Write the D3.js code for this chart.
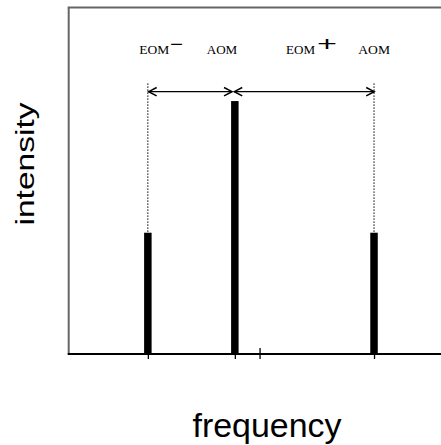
<!DOCTYPE html>
<html><head><meta charset="utf-8">
<script src="https://cdn.jsdelivr.net/npm/d3@7"></script>
<style>html,body{margin:0;padding:0;background:#fff;}svg{display:block;}</style>
</head><body>
<svg id="chart" width="441" height="445"></svg>
<script>
// ---- data ----
const lineNames = ["EOM-", "AOM", "EOM+"];
const frequencies = [-1.0, 0.0, 1.6];
const intensities = [0.35, 0.73, 0.35];
const markerTicks = [0.29];
const xDomain = [-1.91, 2.37];
const yDomain = [0, 1];
const arrowLevel = 0.757;
const guideTop = 0.781;
const xTitle = "frequency";
const yTitle = "intensity";

// ---- layout ----
const L = 68.7, R = 441, T = 7.5, B = 354;
const svg = d3.select("#chart");
const x = d3.scaleLinear().domain(xDomain).range([L, R]);
const y = d3.scaleLinear().domain(yDomain).range([B, T]);

// frame lines (left + top grey, bottom black)
svg.append("line").attr("x1", L).attr("x2", L).attr("y1", T).attr("y2", B)
  .attr("stroke", "#666").attr("stroke-width", 2);
svg.append("line").attr("x1", L - 1).attr("x2", R).attr("y1", T).attr("y2", T)
  .attr("stroke", "#666").attr("stroke-width", 2);

// bottom axis with ticks under each line
const xAxis = d3.axisBottom(x).tickValues(frequencies).tickSize(5).tickFormat("");
const gx = svg.append("g").attr("transform", `translate(0,${B})`).call(xAxis);
gx.select(".domain").remove();
gx.selectAll(".tick line").attr("stroke", "#000").attr("stroke-width", 1.3);
svg.append("line").attr("x1", L - 1).attr("x2", R).attr("y1", B).attr("y2", B)
  .attr("stroke", "#000").attr("stroke-width", 2);

// marker tick crossing the axis
svg.selectAll(".mtick").data(markerTicks).join("line")
  .attr("x1", d => x(d)).attr("x2", d => x(d))
  .attr("y1", B - 6).attr("y2", B + 5)
  .attr("stroke", "#000").attr("stroke-width", 1.3);

// bars
const barW = 7.5;
svg.selectAll(".bar").data(frequencies).join("rect")
  .attr("x", d => x(d) - barW / 2)
  .attr("width", barW)
  .attr("y", (d, i) => y(intensities[i]))
  .attr("height", (d, i) => y(0) - y(intensities[i]))
  .attr("fill", "#000");

// dotted guides above side bars
svg.selectAll(".guide").data([0, 2]).join("line")
  .attr("x1", i => x(frequencies[i])).attr("x2", i => x(frequencies[i]))
  .attr("y1", y(guideTop)).attr("y2", i => y(intensities[i]))
  .attr("stroke", "#000").attr("stroke-width", 1).attr("stroke-dasharray", "1.5,1.5");

// double-headed arrows
const arrows = [[x(frequencies[0]) + 0.8, x(frequencies[1]) - 2.8],
                [x(frequencies[1]) - 0.6, x(frequencies[2]) + 0.2]];
const ay = y(arrowLevel);
const hl = 8, hw = 4.2;
const ga = svg.selectAll(".arrow").data(arrows).join("g");
ga.append("line").attr("x1", d => d[0]).attr("x2", d => d[1])
  .attr("y1", ay).attr("y2", ay).attr("stroke", "#000").attr("stroke-width", 1.3);
ga.append("path")
  .attr("d", d => `M${d[0] + hl},${ay - hw}L${d[0]},${ay}L${d[0] + hl},${ay + hw}` +
                  `M${d[1] - hl},${ay - hw}L${d[1]},${ay}L${d[1] - hl},${ay + hw}`)
  .attr("fill", "none").attr("stroke", "#000").attr("stroke-width", 1.5);

// top labels
const serif = "'Liberation Serif','Times New Roman',serif";
const sans = "'Liberation Sans',Arial,sans-serif";
const labels = [
  {t: "EOM", x: 139.3, y: 53.5, len: 30},
  {t: "AOM", x: 206.7, y: 53.5, len: 30.6},
  {t: "EOM", x: 286, y: 54, len: 29},
  {t: "AOM", x: 358.3, y: 54, len: 31.7}
];
svg.selectAll(".lab").data(labels).join("text")
  .attr("x", d => d.x).attr("y", d => d.y)
  .attr("textLength", d => d.len).attr("lengthAdjust", "spacingAndGlyphs")
  .attr("font-family", serif).attr("font-size", 11.5).attr("fill", "#000")
  .text(d => d.t);
// superscripts
svg.append("text").attr("x", 176.5).attr("y", 50.6).attr("text-anchor", "middle")
  .attr("font-family", sans).attr("font-size", 20)
  .attr("textLength", 13).attr("lengthAdjust", "spacingAndGlyphs").text("\u2212");
svg.append("text").attr("x", 327).attr("y", 51.3).attr("text-anchor", "middle")
  .attr("font-family", sans).attr("font-size", 21)
  .attr("textLength", 20).attr("lengthAdjust", "spacingAndGlyphs").text("+");

// axis titles
svg.append("text").attr("x", 267).attr("y", 436.7).attr("text-anchor", "middle")
  .attr("font-family", sans).attr("font-size", 34).attr("fill", "#000")
  .attr("textLength", 149).attr("lengthAdjust", "spacingAndGlyphs").text(xTitle);
svg.append("text").attr("transform", "translate(33.7,164) rotate(-90) scale(1,0.85)")
  .attr("text-anchor", "middle")
  .attr("font-family", sans).attr("font-size", 31).attr("fill", "#000")
  .attr("textLength", 123).attr("lengthAdjust", "spacingAndGlyphs").text(yTitle);
</script>
</body></html>
